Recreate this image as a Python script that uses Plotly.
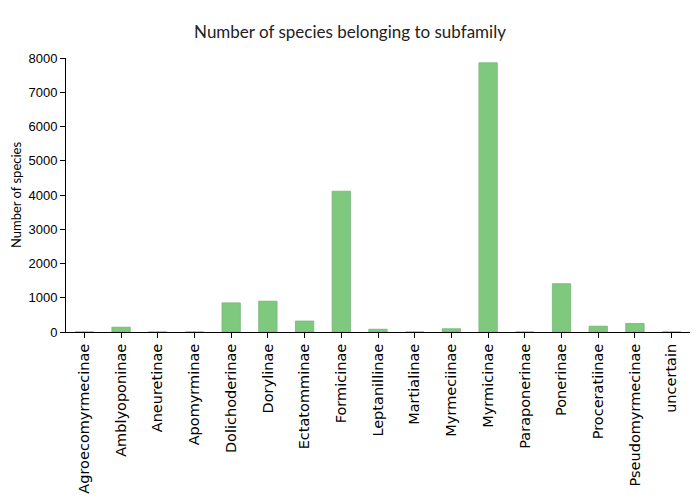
import plotly.graph_objects as go

subfamilies = ["Agroecomyrmecinae", "Amblyoponinae", "Aneuretinae", "Apomyrminae",
               "Dolichoderinae", "Dorylinae", "Ectatomminae", "Formicinae",
               "Leptanillinae", "Martialinae", "Myrmeciinae", "Myrmicinae",
               "Paraponerinae", "Ponerinae", "Proceratiinae", "Pseudomyrmecinae",
               "uncertain"]
species_counts = [2, 140, 1, 1, 850, 900, 320, 4110, 80, 1, 95, 7860, 1, 1410, 170, 250, 3]

fig = go.Figure(go.Bar(
    x=subfamilies, y=species_counts,
    marker=dict(color="#7fc97f", line=dict(color="rgba(120,180,120,0.8)", width=1)),
))

W, H = 692, 492
fig.update_layout(
    width=W, height=H,
    paper_bgcolor="white", plot_bgcolor="white",
    margin=dict(l=58, r=10, t=50, b=168, autoexpand=False),
    bargap=0.5,
    showlegend=False,
    title=dict(text="Number of species belonging to subfamily", x=342 / W, xanchor="center",
               xref="container", yref="container", y=1 - 24 / H, yanchor="middle",
               automargin=False,
               font=dict(family="Lato", size=17, color="#222")),
    xaxis=dict(showline=True, linecolor="black", linewidth=1, ticks="outside",
               ticklen=5, tickcolor="black", tickangle=-90, showgrid=False,
               automargin=False,
               tickfont=dict(family="DejaVu Sans", size=14.5, color="black")),
    yaxis=dict(range=[0, 8000], showline=True, linecolor="black", linewidth=1,
               ticks="outside", ticklen=5, tickcolor="black", showgrid=False,
               zeroline=False, dtick=1000, automargin=False,
               tickfont=dict(family="Liberation Sans", size=13, color="black"),
               title=dict(text="Number of species", standoff=8,
                          font=dict(family="Lato", size=13, color="black"))),
)

fig.write_html("out.html")
